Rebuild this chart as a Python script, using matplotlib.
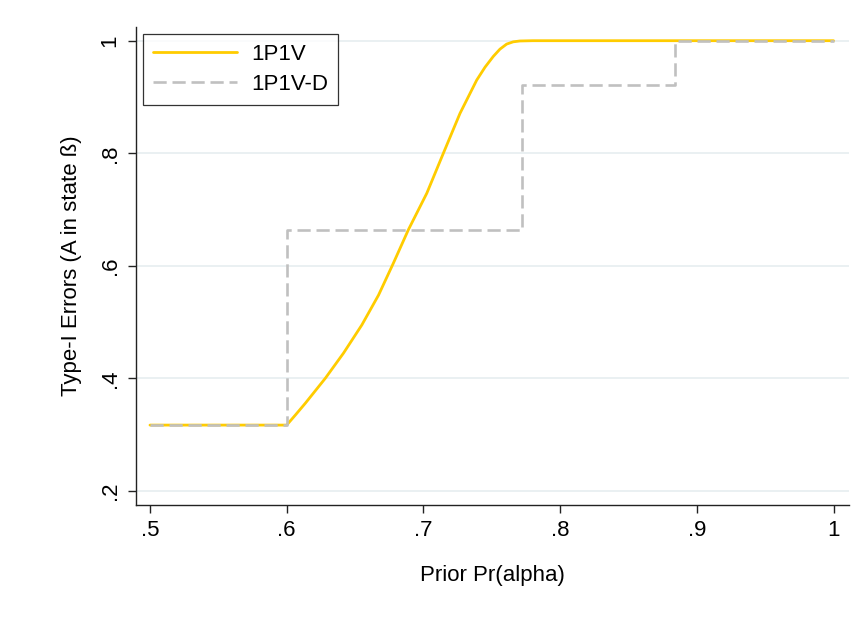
import matplotlib
matplotlib.use("Agg")
import matplotlib.pyplot as plt

plt.rcParams['font.family'] = ['Liberation Sans', 'DejaVu Sans']

# 1P1V curve
x_1p1v = [0.5, 0.6, 0.6064, 0.6137, 0.6282, 0.6416, 0.655, 0.6672, 0.6781,
          0.689, 0.7025, 0.7146, 0.7268, 0.739, 0.7451, 0.7511, 0.756,
          0.7609, 0.7657, 0.7706, 0.78, 1.0]
y_1p1v = [0.317, 0.317, 0.335, 0.356, 0.400, 0.445, 0.495, 0.548, 0.605,
          0.664, 0.729, 0.800, 0.871, 0.930, 0.953, 0.972, 0.985,
          0.994, 0.998, 0.9995, 1.0, 1.0]

# 1P1V-D step function (value holds from each x until the next one)
x_1p1v_d = [0.5, 0.6, 0.772, 0.884, 1.0]
y_1p1v_d = [0.317, 0.663, 0.921, 1.0, 1.0]

xticks = [0.5, 0.6, 0.7, 0.8, 0.9, 1.0]
xticklabels = ['.5', '.6', '.7', '.8', '.9', '1']
yticks = [0.2, 0.4, 0.6, 0.8, 1.0]
yticklabels = ['.2', '.4', '.6', '.8', '1']

fs = 16
fig = plt.figure(figsize=(8.56, 6.3), dpi=100)
ax = fig.add_axes([0.1589, 0.1984, 0.8329, 0.7587])

ax.plot(x_1p1v, y_1p1v, color='#FFCC00', lw=2.0, label='1P1V',
        solid_capstyle='round', solid_joinstyle='round', zorder=3)
ax.plot(x_1p1v_d, y_1p1v_d, color='#C0C0C0', lw=1.9, drawstyle='steps-post',
        dashes=(5.0, 2.2), label='1P1V-D', zorder=4)

ax.set_xlim(0.4898, 1.0113)
ax.set_ylim(0.175, 1.0243)
ax.set_xticks(xticks)
ax.set_xticklabels(xticklabels)
ax.set_yticks(yticks)
ax.set_yticklabels(yticklabels, rotation=90, va='center')

ax.grid(axis='y', color='#E8EFF1', lw=1.3)
ax.set_axisbelow(True)
for s in ['top', 'right']:
    ax.spines[s].set_visible(False)
for s in ['left', 'bottom']:
    ax.spines[s].set_color('#222222')
    ax.spines[s].set_linewidth(1.0)
ax.tick_params(length=6, width=1.0, color='#222222', labelsize=fs, pad=5)

ax.set_xlabel('Prior Pr(alpha)', fontsize=fs, labelpad=17)
ax.set_ylabel('Type-I Errors (A in state ß)', fontsize=fs, labelpad=13)

leg = ax.legend(loc='upper left', bbox_to_anchor=(0.0098, 0.985),
                borderaxespad=0, fontsize=fs, frameon=True, fancybox=False,
                handlelength=3.8, handletextpad=0.6, labelspacing=0.4,
                borderpad=0.45)
leg.get_frame().set_edgecolor('black')
leg.get_frame().set_linewidth(0.9)

fig.savefig('out.png', dpi=100, facecolor='white')
